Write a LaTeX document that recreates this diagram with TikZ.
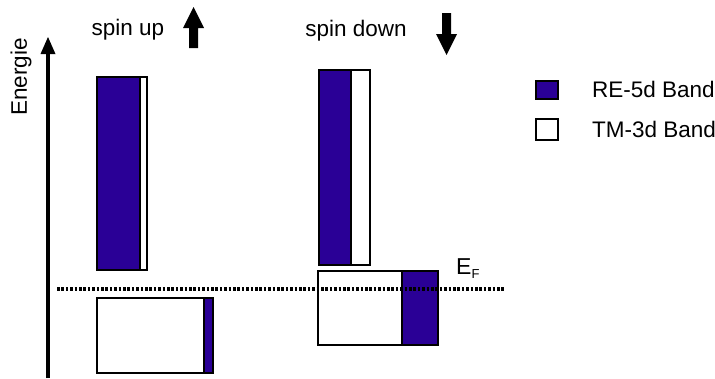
\documentclass[tikz,border=0pt]{standalone}
\usepackage{fontspec}
\setmainfont{Liberation Sans}
\definecolor{rebl}{RGB}{42,0,150}
\begin{document}
\begin{tikzpicture}[x=1pt,y=-1pt,
  band/.style={draw=black, line width=2pt, inner sep=0pt, anchor=north west},
  reband/.style={band, fill=rebl},
  tmband/.style={band, fill=white},
  lbl/.style={inner sep=0pt, font=\fontsize{22.5}{27}\selectfont},
  spinarrow/.style={fill=black, draw=none}]
\useasboundingbox (0,0) rectangle (715,378);
% energy axis
\coordinate (axb) at (48,378);
\coordinate (axt) at (48,52);
\draw[line width=4.5pt] (axb) -- (axt);
\fill (48,37) -- (55.5,54) -- (40.5,54) -- cycle;
\node[lbl, rotate=90] (energie) at (21,77) {Energie};
% spin labels and arrows
\node[lbl] (spinup) at (128,30) {spin up};
\fill[spinarrow] (193.5,7) -- (204,28) -- (198,28) -- (198,48) -- (189,48) -- (189,28) -- (183,28) -- cycle;
\node[lbl] (spindown) at (356,31) {spin down};
\fill[spinarrow] (446.5,55) -- (457,34) -- (451,34) -- (451,13) -- (442,13) -- (442,34) -- (436,34) -- cycle;
% spin up bands
\node[tmband, minimum width=50pt, minimum height=193pt] (uptopw) at (96,76) {};
\node[reband, minimum width=43pt, minimum height=193pt] (uptopb) at (96,76) {};
\node[tmband, minimum width=116pt, minimum height=75pt] (upbotw) at (96,297) {};
\node[reband, minimum width=9pt, minimum height=75pt] (upbotb) at (203,297) {};
% spin down bands
\node[tmband, minimum width=51pt, minimum height=195pt] (dntopw) at (318,69) {};
\node[reband, minimum width=32pt, minimum height=195pt] (dntopb) at (318,69) {};
\node[tmband, minimum width=120pt, minimum height=74pt] (dnbotw) at (317,270) {};
\node[reband, minimum width=36pt, minimum height=74pt] (dnbotb) at (401,270) {};
% Fermi level
\coordinate (efl) at (57,289);
\coordinate (efr) at (504,289);
\draw[line width=4pt, dash pattern=on 2.6pt off 1.8pt] (efl) -- (efr);
\node[inner sep=0pt, anchor=base west, font=\fontsize{23}{27}\selectfont] (ef) at (456,274) {E\raisebox{-0.4ex}{\fontsize{13}{15}\selectfont F}};
% legend
\node[reband, minimum width=22pt, minimum height=18pt] (legre) at (535,80) {};
\node[lbl, anchor=west] (legretxt) at (592,89) {RE-5d Band};
\node[tmband, minimum width=22pt, minimum height=21pt] (legtm) at (535,118) {};
\node[lbl, anchor=west] (legtmtxt) at (592,129) {TM-3d Band};
\end{tikzpicture}
\end{document}
